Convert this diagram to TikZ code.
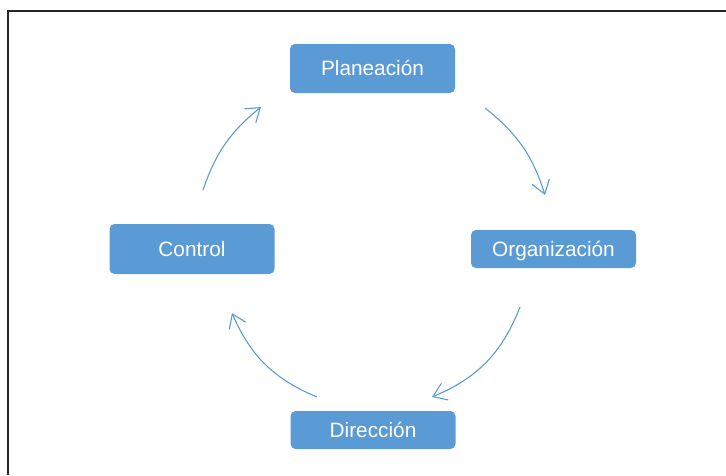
\documentclass[tikz,border=0pt]{standalone}
\usepackage{fontspec}
\setmainfont{Liberation Sans}
\usetikzlibrary{arrows.meta}
\definecolor{cycleblue}{HTML}{5B9BD5}
\tikzset{
  >={Straight Barb[length=13pt,width=18pt]},
  stage/.style={fill=cycleblue, text=white, rounded corners=5pt, inner sep=0pt,
    minimum width=165pt, text height=14.5pt, text depth=0pt,
    font=\fontsize{20.8}{24}\selectfont},
  cycle arrow/.style={->, draw=cycleblue, line width=1.1pt}
}
\begin{document}
\begin{tikzpicture}[x=1pt,y=-1pt]
	%% page and frame
	\useasboundingbox (0,0) rectangle (726,475);
	\draw[line width=2pt, black!85] (726,11) -- (8,11) -- (8,475);

	%% the four stages
	\node[stage, minimum height=49pt] (plan) at (372.5,68.5) {Planeación};
	\node[stage, minimum height=38pt] (org) at (553.5,249) {Organización};
	\node[stage, minimum height=38pt] (dir) at (373,430) {Dirección};
	\node[stage, minimum height=50pt] (ctrl) at (192,249) {Control};

	%% arrow ends
	\coordinate (planout) at (485,108);
	\coordinate (orgin) at (545,195);
	\coordinate (orgout) at (520,307);
	\coordinate (dirin) at (432,397);
	\coordinate (dirout) at (317,397);
	\coordinate (ctrlin) at (232,313);
	\coordinate (ctrlout) at (203,190);
	\coordinate (planin) at (261,107);

	%% cycle arrows
	\draw[cycle arrow] (planout) to[bend left=17] (orgin);
	\draw[cycle arrow] (orgout) to[bend left=23] (dirin);
	\draw[cycle arrow] (dirout) to[bend left=22] (ctrlin);
	\draw[cycle arrow] (ctrlout) to[bend left=16] (planin);
\end{tikzpicture}
\end{document}
